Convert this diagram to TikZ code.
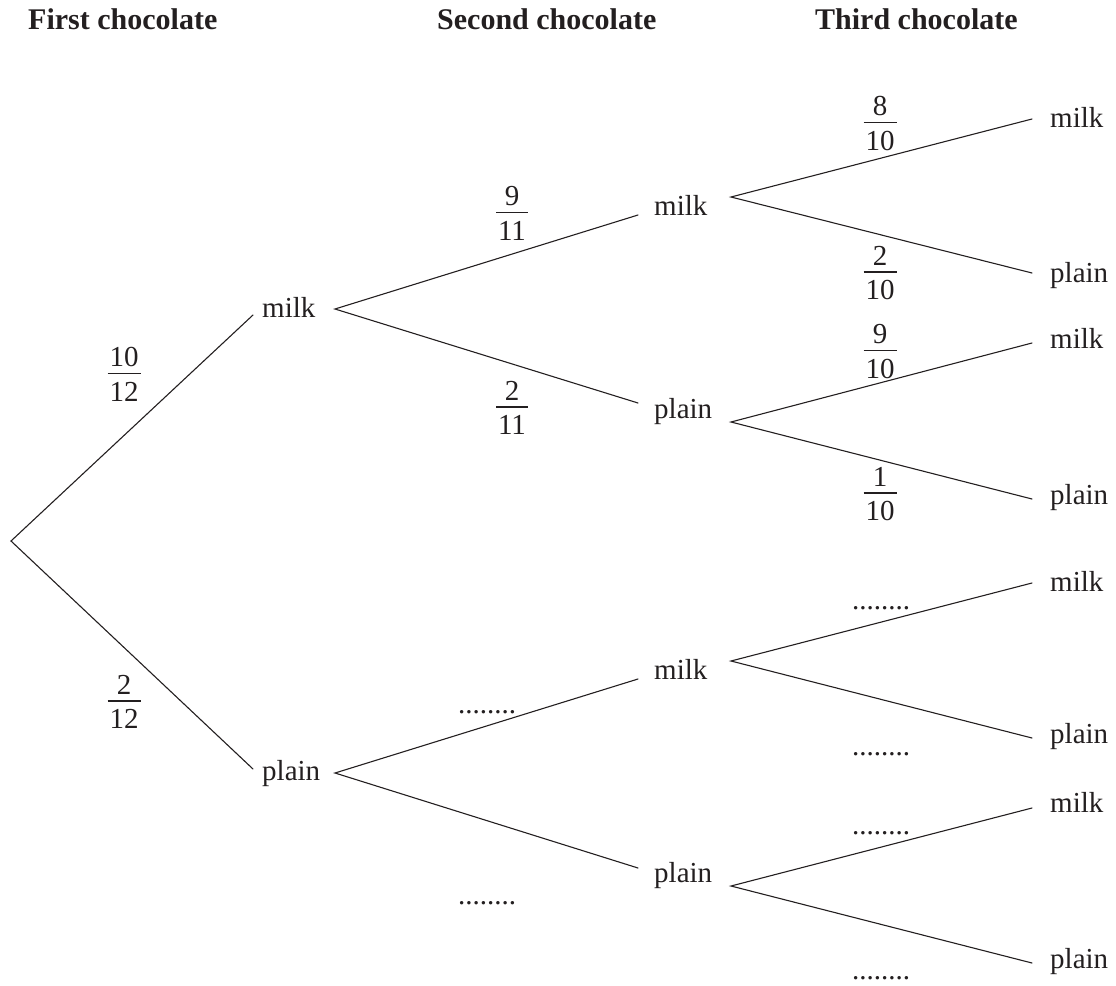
\documentclass[tikz,border=0pt]{standalone}
\usepackage{fontspec}
\setmainfont{Liberation Serif}
\definecolor{ink}{HTML}{231F20}
\newcommand{\fr}[2]{\vbox{\halign{\hfil\kern2pt##\kern2pt\hfil\cr #1\cr\noalign{\kern6pt\hrule height 1.2pt\kern8pt}#2\cr}}}
\tikzset{
  lbl/.style={anchor=base west, inner sep=0pt, font=\fontsize{29}{34}\selectfont, text=ink},
  hdr/.style={anchor=base west, inner sep=0pt, font=\fontsize{30}{36}\selectfont\bfseries, text=ink},
  prob/.style={anchor=north, inner sep=0pt, yshift=26pt, font=\fontsize{29}{34}\selectfont, text=ink},
  blank/.style={anchor=base, inner sep=0pt, font=\fontsize{29}{34}\selectfont, text=ink},
  branch/.style={draw=ink, line width=1.1pt, line cap=round},
}
\begin{document}
\begin{tikzpicture}[x=1pt,y=-1pt]
\useasboundingbox (0,0) rectangle (1116,985);
% headers
\node[hdr] (h1) at (28,29) {First chocolate};
\node[hdr] (h2) at (437,29) {Second chocolate};
\node[hdr] (h3) at (815,29) {Third chocolate};
% root
\coordinate (R) at (11,541);
% level 1
\node[lbl] (t1m) at (262,317) {milk};
\node[lbl] (t1p) at (262,780) {plain};
\coordinate (i1m) at (253,315); \coordinate (o1m) at (335,309);
\coordinate (i1p) at (253,769); \coordinate (o1p) at (335,773);
% level 2
\node[lbl] (t2a) at (654,215) {milk};
\node[lbl] (t2b) at (654,418) {plain};
\node[lbl] (t2c) at (654,679) {milk};
\node[lbl] (t2d) at (654,882) {plain};
\coordinate (i2a) at (638,215); \coordinate (o2a) at (731,197);
\coordinate (i2b) at (638,403); \coordinate (o2b) at (731,422);
\coordinate (i2c) at (638,679); \coordinate (o2c) at (731,661);
\coordinate (i2d) at (638,868); \coordinate (o2d) at (731,886);
% level 3
\node[lbl] (t3am) at (1050,127) {milk};
\node[lbl] (t3ap) at (1050,282) {plain};
\node[lbl] (t3bm) at (1050,348) {milk};
\node[lbl] (t3bp) at (1050,504) {plain};
\node[lbl] (t3cm) at (1050,591) {milk};
\node[lbl] (t3cp) at (1050,743) {plain};
\node[lbl] (t3dm) at (1050,812) {milk};
\node[lbl] (t3dp) at (1050,968) {plain};
\coordinate (i3am) at (1032,119); \coordinate (i3ap) at (1032,273);
\coordinate (i3bm) at (1032,343); \coordinate (i3bp) at (1032,499);
\coordinate (i3cm) at (1032,583); \coordinate (i3cp) at (1032,738);
\coordinate (i3dm) at (1032,808); \coordinate (i3dp) at (1032,963);
% branches
\draw[branch] (i1m) -- (R) -- (i1p);
\draw[branch] (i2a) -- (o1m) -- (i2b);
\draw[branch] (i2c) -- (o1p) -- (i2d);
\draw[branch] (i3am) -- (o2a) -- (i3ap);
\draw[branch] (i3bm) -- (o2b) -- (i3bp);
\draw[branch] (i3cm) -- (o2c) -- (i3cp);
\draw[branch] (i3dm) -- (o2d) -- (i3dp);
% probabilities
\node[prob] (p1m) at (124,373) {\fr{10}{12}};
\node[prob] (p1p) at (124,701) {\fr{2}{12}};
\node[prob] (p2a) at (512,212) {\fr{9}{11}};
\node[prob] (p2b) at (512,407) {\fr{2}{11}};
\node[prob] (p3am) at (880,122) {\fr{8}{10}};
\node[prob] (p3ap) at (880,272) {\fr{2}{10}};
\node[prob] (p3bm) at (880,350) {\fr{9}{10}};
\node[prob] (p3bp) at (880,493) {\fr{1}{10}};
% blanks
\node[blank] (b2c) at (487,713) {........};
\node[blank] (b2d) at (487,904) {........};
\node[blank] (b3cm) at (881,609) {........};
\node[blank] (b3cp) at (881,755) {........};
\node[blank] (b3dm) at (881,834) {........};
\node[blank] (b3dp) at (881,979) {........};
\end{tikzpicture}
\end{document}
